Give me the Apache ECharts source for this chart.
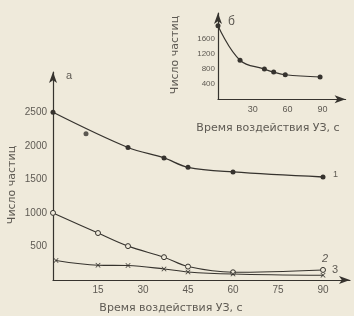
<!DOCTYPE html>
<html><head><meta charset="utf-8">
<script src="https://cdn.jsdelivr.net/npm/echarts@6/dist/echarts.min.js"></script>
<style>html,body{margin:0;padding:0;background:#efeadb}#c{width:354px;height:316px}</style>
</head><body><div id="c"></div>
<script>
// ---- data ----
const curve1 = [[0,2500],[25,1975],[37,1820],[45,1680],[60,1610],[90,1535]];
const outlier1 = [[11,2180]];
const curve2 = [[0,1000],[15,700],[25,505],[37,340],[45,200],[60,115],[90,150]];
const curve3 = [[1,290],[15,220],[25,215],[37,165],[45,120],[60,90],[90,70]];
const insetCurve = [[0,1960],[19,1040],[40,805],[48,725],[58,655],[88,595]];
const mainXTicks = [15,30,45,60,75,90];
const mainYTicks = [500,1000,1500,2000,2500];
const insetXTicks = [30,60,90];
const insetYTicks = [400,800,1200,1600];
const xTitle = 'Время воздействия УЗ, с';
const yTitle = 'Число частиц';

const ink = '#36332e';
const txt = '#5e5a53';
const bg = '#efeadb';
const font = 'Liberation Sans';

const chart = echarts.init(document.getElementById('c'));
const lab = (ticks, size, margin) => ({
  color: txt, fontFamily: font, fontSize: size, margin: margin,
  showMinLabel: true, showMaxLabel: true,
  formatter: v => ticks.indexOf(v) >= 0 ? String(v) : ''
});
const axLine = {show: true, symbol: ['none','arrow'], symbolSize: [6, 11], lineStyle: {color: ink, width: 1.2}};

const dot = (size) => ({symbol: 'circle', symbolSize: size, itemStyle: {color: ink}});
const cross = 'path://M0,1L1,0L5,4L9,0L10,1L6,5L10,9L9,10L5,6L1,10L0,9L4,5Z';

chart.setOption({
  backgroundColor: bg,
  animation: false,
  grid: [
    {left: 53, top: 72, width: 297, height: 208},
    {left: 218, top: 13, width: 127.6, height: 86.3}
  ],
  xAxis: [
    {type: 'value', gridIndex: 0, min: 0, max: 99, interval: 15, splitLine: {show: false},
     axisLine: axLine, axisTick: {show: false}, axisLabel: lab(mainXTicks, 10, 5)},
    {type: 'value', gridIndex: 1, min: 0, max: 110, interval: 30, splitLine: {show: false},
     axisLine: axLine, axisTick: {show: false}, axisLabel: lab(insetXTicks, 9, 6)}
  ],
  yAxis: [
    {type: 'value', gridIndex: 0, min: 0, max: 3100, interval: 500, splitLine: {show: false},
     axisLine: axLine, axisTick: {show: false}, axisLabel: lab(mainYTicks, 10, 6)},
    {type: 'value', gridIndex: 1, min: 0, max: 2300, interval: 400, splitLine: {show: false},
     axisLine: axLine, axisTick: {show: false}, axisLabel: lab(insetYTicks, 8, 3)}
  ],
  series: [
    {type: 'line', xAxisIndex: 0, yAxisIndex: 0, data: curve1, smooth: 0.35, clip: false,
     lineStyle: {color: ink, width: 1.3}, ...dot(5),
     endLabel: {show: true, formatter: '1', color: txt, fontSize: 9, offset: [2, -2]}},
    {type: 'scatter', xAxisIndex: 0, yAxisIndex: 0, data: outlier1, ...dot(5)},
    {type: 'line', xAxisIndex: 0, yAxisIndex: 0, data: curve2, smooth: 0.35, clip: false,
     lineStyle: {color: ink, width: 1.1}, symbol: 'circle', symbolSize: 5,
     itemStyle: {color: bg, borderColor: ink, borderWidth: 1},
     endLabel: {show: true, formatter: '2', color: txt, fontSize: 11, fontStyle: 'italic', offset: [-9, -11]}},
    {type: 'line', xAxisIndex: 0, yAxisIndex: 0, data: curve3, smooth: 0.35, clip: false,
     lineStyle: {color: ink, width: 1.1}, symbol: cross, symbolSize: 5,
     itemStyle: {color: ink},
     endLabel: {show: true, formatter: '3', color: txt, fontSize: 11, offset: [1, -5]}},
    {type: 'line', xAxisIndex: 1, yAxisIndex: 1, data: insetCurve, smooth: 0.4, clip: false,
     showAllSymbol: true, lineStyle: {color: ink, width: 1.2}, ...dot(5), z: 5}
  ],
  graphic: [
    {type: 'text', left: 66, top: 70, style: {text: 'а', fill: txt, font: '11px "Liberation Sans"'}},
    {type: 'text', left: 228, top: 16, style: {text: 'б', fill: txt, font: '12px "Liberation Sans"'}},
    {type: 'text', x: 171, y: 308, style: {text: xTitle, fill: txt, font: '11px "DejaVu Sans"', align: 'center', verticalAlign: 'middle'}},
    {type: 'text', x: 268, y: 128, style: {text: xTitle, fill: txt, font: '11px "DejaVu Sans"', align: 'center', verticalAlign: 'middle'}},
    {type: 'text', x: 12, y: 185, rotation: Math.PI / 2, style: {text: yTitle, fill: txt, font: '11px "DejaVu Sans"', align: 'center', verticalAlign: 'middle'}},
    {type: 'text', x: 175, y: 55, rotation: Math.PI / 2, style: {text: yTitle, fill: txt, font: '11px "DejaVu Sans"', align: 'center', verticalAlign: 'middle'}}
  ]
});
</script></body></html>
